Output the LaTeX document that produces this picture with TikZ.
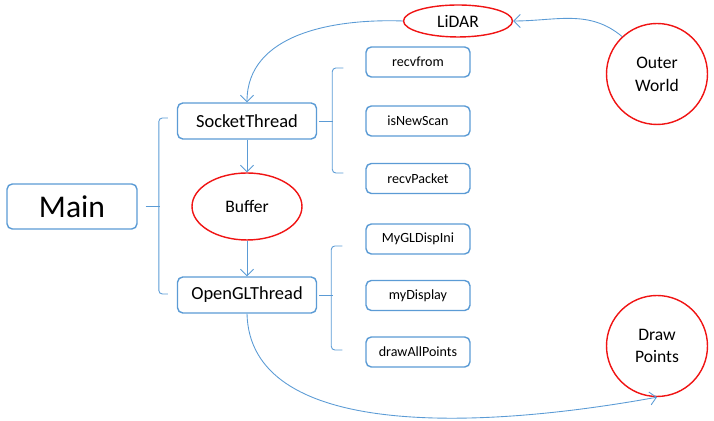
\documentclass[tikz,border=0pt]{standalone}
\usepackage{fontspec}
\setmainfont{Carlito}
\usepackage{tikz}
\usetikzlibrary{shapes, arrows, arrows.meta, calc, positioning}
\definecolor{lineBlue}{RGB}{91,155,213}
\definecolor{ovalRed}{RGB}{240,20,20}
\tikzstyle{box}=[rectangle, rounded corners=3pt, draw=lineBlue, line width=0.8pt, fill=white,
  minimum width=2.78cm, minimum height=0.72cm, inner sep=0pt, font=\fontsize{10.5}{12}\selectfont]
\tikzstyle{smallbox}=[box, minimum width=2.08cm, minimum height=0.6cm, font=\fontsize{8}{10}\selectfont]
\tikzstyle{oval}=[ellipse, draw=ovalRed, line width=0.8pt, fill=white, inner sep=0pt, align=center,
  font=\fontsize{10}{13}\selectfont]
\tikzstyle{ring}=[oval, circle, minimum size=2.02cm]
\tikzstyle{arrow}=[-{Straight Barb[length=1.3mm,width=2.6mm]}, line width=0.5pt, draw=lineBlue]
\tikzstyle{brace}=[line width=0.5pt, draw=lineBlue, rounded corners=2pt]

\begin{document}
\begin{tikzpicture}[x=0.02cm, y=0.02cm]
      \useasboundingbox (0,0) rectangle (714,421);
      \node(main) at (72,214.5) [box, minimum width=2.6cm, minimum height=0.9cm, font=\fontsize{18}{20}\selectfont] {Main};
      \node(socket) at (247,300) [box] {SocketThread};
      \node(buffer) at (247,214.5) [oval, minimum width=2.2cm, minimum height=1.34cm] {Buffer};
      \node(opengl) at (247,126) [box] {OpenGLThread};
      \node(recvfrom) at (418,359) [smallbox] {recvfrom};
      \node(isnewscan) at (418,300) [smallbox] {isNewScan};
      \node(recvpacket) at (418,242.5) [smallbox] {recvPacket};
      \node(dispini) at (418,182) [smallbox] {MyGLDispIni};
      \node(mydisplay) at (418,125.5) [smallbox] {myDisplay};
      \node(drawall) at (418,69) [smallbox] {drawAllPoints};
      \node(lidar) at (458,400) [oval, minimum width=2.18cm, minimum height=0.64cm] {LiDAR};
      \node(outer) at (657,347) [ring] {Outer\\World};
      \node(drawpts) at (657,75) [ring] {Draw\\Points};
      % braces
      \draw[brace] ([xshift=0.16cm]main.east) -- ++(14,0);
      \draw[brace] ([shift={(-9,3)}]socket.west) -- ++(-9,0) |- ([shift={(-9,1)}]opengl.west);
      \draw[brace] ([xshift=0.04cm]socket.east) -- ++(14,0);
      \draw[brace] ([shift={(-22,-6)}]recvfrom.west) -- ++(-11,0) |- ([shift={(-22,5.5)}]recvpacket.west);
      \draw[brace] ([xshift=0.04cm]opengl.east) -- ++(14,0);
      \draw[brace] ([shift={(-23,-7)}]dispini.west) -- ++(-11,0) |- ([shift={(-23,2)}]drawall.west);
      % arrows
      \draw[arrow] (socket) to (buffer);
      \draw[arrow] (buffer) to (opengl);
      \draw[arrow] (outer.133) to[out=140, in=0] (lidar.east);
      \draw[arrow] (lidar.west) to[out=178, in=90] (socket.north);
      \draw[arrow] (opengl.south) .. controls +(3,-123) and +(-187,-34) .. (drawpts.south);
    \end{tikzpicture}
\end{document}
